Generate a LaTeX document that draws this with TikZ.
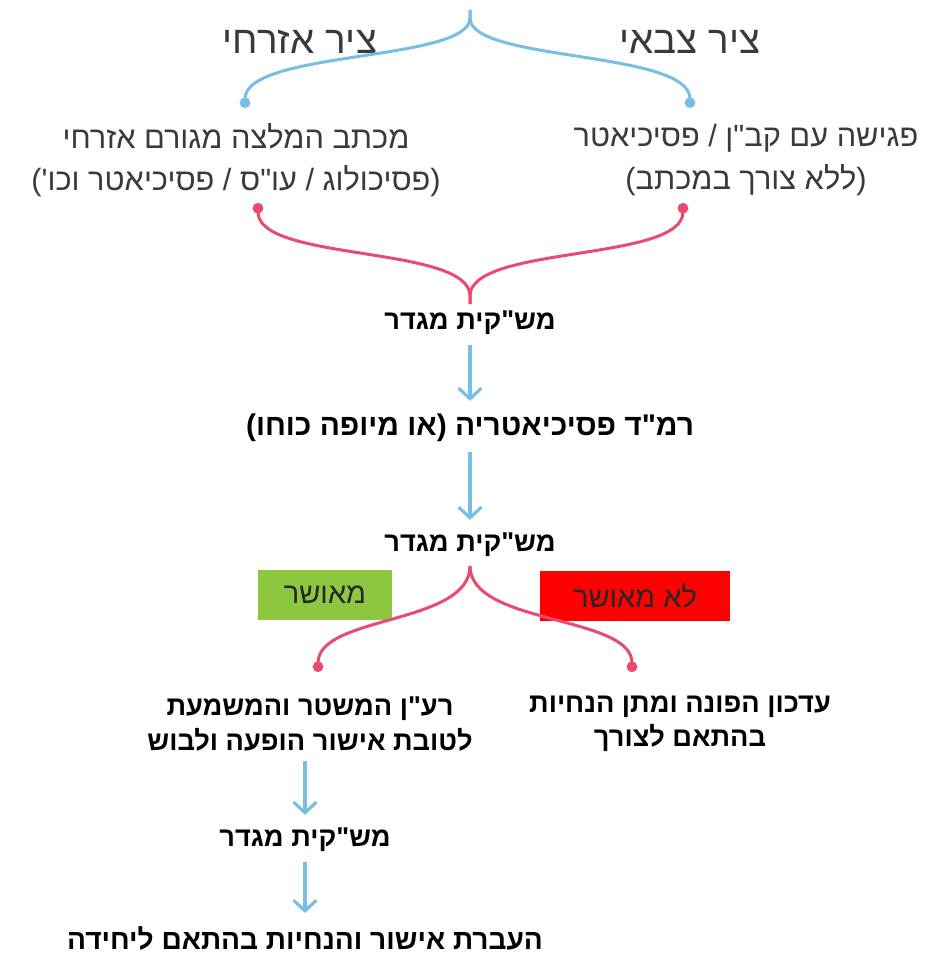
\documentclass[tikz,border=0pt]{standalone}
\usepackage{fontspec}
\newfontfamily\hebfont[Script=Hebrew]{Liberation Sans}
\usetikzlibrary{arrows.meta}
\TeXXeTstate=1

\definecolor{forkblue}{RGB}{118,190,226}
\definecolor{forkred}{RGB}{233,74,112}
\definecolor{okgreen}{RGB}{141,198,63}
\definecolor{nored}{RGB}{255,0,0}
\definecolor{lighttext}{RGB}{58,58,58}
\newcommand{\heb}[1]{\beginR #1\endR}

\tikzset{
    head/.style={font=\hebfont\fontsize{22}{26}\selectfont, text=lighttext},
    sub/.style={font=\hebfont\fontsize{17.5}{24}\selectfont, text=lighttext, align=center},
    bold/.style={font=\hebfont\fontsize{15.5}{19.5}\selectfont\bfseries, align=center},
    blueline/.style={forkblue, line width=1.7pt},
    redline/.style={forkred, line width=1.7pt},
    dot/.style={-{Circle[length=6pt]}},
    down/.style={blueline, line width=1.8pt, -{Straight Barb[length=6pt,width=13pt]}, shorten <=2pt, shorten >=4pt},
    verdict/.style={font=\hebfont\fontsize{16.5}{20}\selectfont, text=black!85, minimum height=1cm}
}

\begin{document}
\begin{tikzpicture}[x=0.02cm,y=-0.02cm]
    \useasboundingbox (0,0) rectangle (933,956);

    % top: two tracks
    \node[head] (civil) at (300,42) {\heb{ציר אזרחי}};
    \node[head] (army) at (690,42) {\heb{ציר צבאי}};
    \node[sub] (letter) at (236,160) {\heb{מכתב המלצה מגורם אזרחי}\\\heb{(פסיכולוג / עו"ס / פסיכיאטר וכו')}};
    \node[sub] (meet) at (746,160) {\heb{פגישה עם קב"ן / פסיכיאטר}\\\heb{(ללא צורך במכתב)}};

    \coordinate (btop) at (470,10);
    \coordinate (bl) at (245,108);
    \coordinate (br) at (690,108);
    \draw[blueline,dot] (btop) -- (470,18) .. controls (470,62) and (245,50) .. (bl);
    \draw[blueline,dot] (btop) -- (470,18) .. controls (470,62) and (690,50) .. (br);

    \coordinate (rbot) at (470,304);
    \coordinate (rl) at (258,203);
    \coordinate (rr) at (683,203);
    \draw[redline,dot] (rbot) -- (470,296) .. controls (470,245) and (258,262) .. (rl);
    \draw[redline,dot] (rbot) -- (470,296) .. controls (470,245) and (683,262) .. (rr);

    % chain
    \node[bold] (mashakit1) at (470,323) {\heb{מש"קית מגדר}};
    \node[bold, font=\hebfont\fontsize{17}{20}\selectfont\bfseries] (ramad) at (470,428) {\heb{רמ"ד פסיכיאטריה (או מיופה כוחו)}};
    \node[bold] (mashakit2) at (470,545) {\heb{מש"קית מגדר}};
    \draw[down] (mashakit1) -- (ramad);
    \draw[down] (ramad) -- (mashakit2);

    % decision
    \node[verdict, fill=okgreen, minimum width=2.7cm] (yes) at (325,595) {\heb{מאושר}};
    \node[verdict, fill=nored, minimum width=3.8cm] (no) at (635,596) {\heb{לא מאושר}};

    \coordinate (rtop) at (470,566);
    \coordinate (dl) at (318,672);
    \coordinate (dr) at (632,672);
    \draw[redline,dot] (rtop) .. controls (470,625) and (318,615) .. (dl);
    \draw[redline,dot] (rtop) .. controls (470,625) and (632,615) .. (dr);

    \node[bold] (raan) at (310,724) {\heb{רע"ן המשטר והמשמעת}\\\heb{לטובת אישור הופעה ולבוש}};
    \node[bold] (update) at (680,724) {\heb{עדכון הפונה ומתן הנחיות}\\\heb{בהתאם לצורך}};

    \node[bold] (mashakit3) at (305,840) {\heb{מש"קית מגדר}};
    \node[bold, font=\hebfont\fontsize{16}{20}\selectfont\bfseries] (transfer) at (305,938) {\heb{העברת אישור והנחיות בהתאם ליחידה}};
    \draw[down] (mashakit3 |- raan.south) -- (mashakit3);
    \draw[down] (mashakit3) -- (transfer);
\end{tikzpicture}
\end{document}
